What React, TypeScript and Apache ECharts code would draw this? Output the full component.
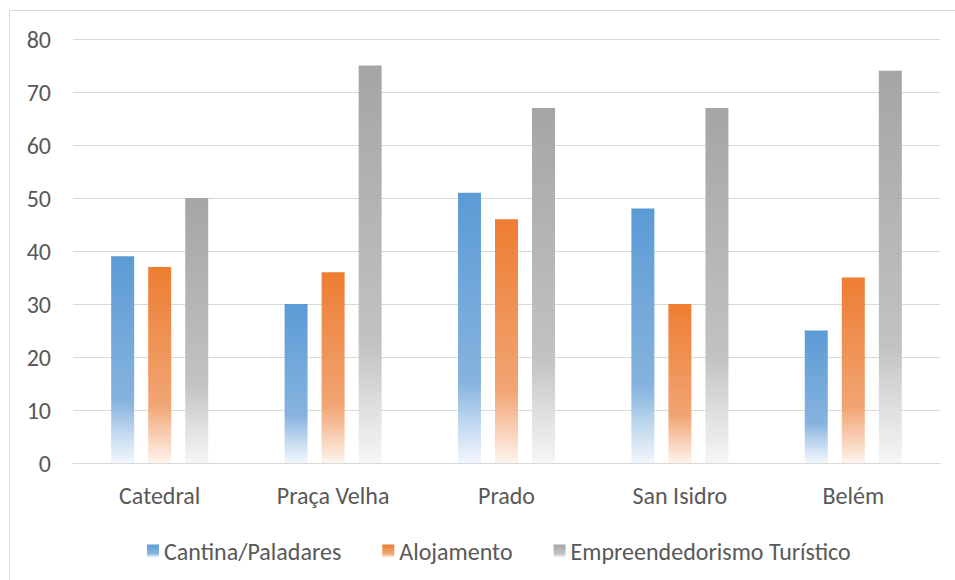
import React, { useEffect, useRef } from "react";
import * as echarts from "echarts";

const categories = ["Catedral", "Praça Velha", "Prado", "San Isidro", "Belém"];
const seriesNames = ["Cantina/Paladares", "Alojamento", "Empreendedorismo Turístico"];
const cantina = [39, 30, 51, 48, 25];
const alojamento = [37, 36, 46, 30, 35];
const empreendedorismo = [50, 75, 67, 67, 74];
const yTicks = { min: 0, max: 80, interval: 10 };

const FONT = "Carlito, Calibri, Lato, sans-serif";
const TEXT = "#595959";

function grad(c0: string, c1: string, c2: string, c3: string) {
  return new echarts.graphic.LinearGradient(0, 0, 0, 1, [
    { offset: 0, color: c0 },
    { offset: 0.7, color: c1 },
    { offset: 0.86, color: c2 },
    { offset: 1, color: c3 },
  ]);
}

export default function App() {
  const ref = useRef<HTMLDivElement>(null);
  useEffect(() => {
    if (!ref.current) return;
    const chart = echarts.init(ref.current, null, { renderer: "svg" });
    const colors = [
      grad("#5b9bd5", "#86b3de", "#c3d9ef", "#f2f7fc"),
      grad("#ed7d31", "#f1a574", "#f8ceb3", "#fdf4ee"),
      grad("#a5a5a5", "#c2c2c2", "#dfdfdf", "#f6f6f6"),
    ];
    const data = [cantina, alojamento, empreendedorismo];
    chart.setOption({
      animation: false,
      backgroundColor: "#ffffff",
      textStyle: { fontFamily: FONT },
      graphic: [
        {
          type: "rect",
          shape: { x: 9.5, y: 10.5, width: 1000, height: 1000 },
          style: { fill: "none", stroke: "#d9d9d9", lineWidth: 1 },
          silent: true,
        },
      ],
      grid: { left: 73, top: 39, width: 867, height: 424, containLabel: false },
      legend: {
        left: 142,
        top: 534,
        itemWidth: 12,
        itemHeight: 13,
        itemGap: 41,
        icon: "rect",
        textStyle: { color: TEXT, fontSize: 24, fontFamily: FONT, padding: [0, 0, 0, 0] },
        data: seriesNames,
      },
      xAxis: {
        type: "category",
        data: categories,
        axisTick: { show: false },
        axisLine: { lineStyle: { color: "#d9d9d9", width: 1 } },
        axisLabel: { color: TEXT, fontSize: 24, fontFamily: FONT, margin: 20 },
        splitLine: { show: false },
      },
      yAxis: {
        type: "value",
        min: yTicks.min,
        max: yTicks.max,
        interval: yTicks.interval,
        axisLine: { show: false },
        axisTick: { show: false },
        axisLabel: { color: TEXT, fontSize: 24, fontFamily: FONT, margin: 22 },
        splitLine: { lineStyle: { color: "#d9d9d9", width: 1 } },
      },
      series: seriesNames.map((name, i) => ({
        name,
        type: "bar",
        data: data[i],
        barWidth: 23,
        barGap: "61%",
        itemStyle: { color: colors[i] },
      })),
    });
    return () => chart.dispose();
  }, []);
  return (
    <div
      ref={ref}
      style={{ position: "fixed", left: 0, top: 0, width: 955, height: 580 }}
    />
  );
}
